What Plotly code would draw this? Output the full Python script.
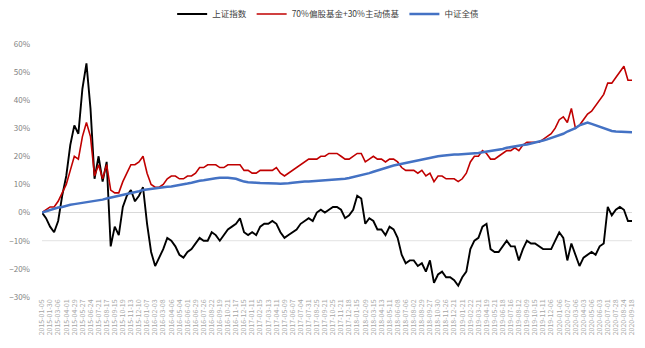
import numpy as np
import plotly.graph_objects as go

# Tick labels (every 19 trading days)
tick_labels = [
    "2015-01-05","2015-01-30","2015-03-06","2015-04-01","2015-04-29","2015-05-27","2015-06-24","2015-07-21","2015-08-17","2015-09-15","2015-10-19","2015-11-13","2015-12-10",
    "2016-01-07","2016-02-03","2016-03-08","2016-04-06","2016-05-04","2016-06-01","2016-06-29","2016-07-26","2016-08-22","2016-09-19","2016-10-21","2016-11-17","2016-12-15",
    "2017-01-11","2017-02-15","2017-03-13","2017-04-11","2017-05-09","2017-06-07","2017-07-04","2017-07-31","2017-08-25","2017-09-21","2017-10-25","2017-11-21","2017-12-18",
    "2018-01-15","2018-02-09","2018-03-15","2018-04-13","2018-05-11","2018-06-08","2018-07-06","2018-08-02","2018-08-29","2018-09-27","2018-10-30","2018-11-26","2018-12-21",
    "2019-01-21","2019-02-22","2019-03-21","2019-04-19","2019-05-21","2019-06-18","2019-07-16","2019-08-12","2019-09-09","2019-10-15","2019-11-11","2019-12-06",
    "2020-01-06","2020-02-07","2020-03-06","2020-04-03","2020-05-06","2020-06-03","2020-07-01","2020-07-28","2020-08-24","2020-09-18",
]

# Series values (%), sampled every half tick interval
sse = [
    0, -2, -5, -7, -3, 6, 13, 24, 31, 28,
    44, 53, 37, 12, 20, 11, 18, -12, -5, -8,
    2, 6, 8, 4, 6, 9, -4, -14, -19, -16,
    -13, -9, -10, -12, -15, -16, -14, -13, -11, -9,
    -10, -10, -7, -8, -10, -8, -6, -5, -4, -2,
    -7, -8, -7, -8, -5, -4, -4, -3, -4, -7,
    -9, -8, -7, -6, -4, -3, -2, -3, 0, 1,
    0, 1, 2, 2, 1, -2, -1, 1, 6, 5,
    -4, -2, -3, -6, -6, -8, -5, -6, -9, -15,
    -18, -17, -17, -19, -18, -21, -17, -25, -22, -21,
    -23, -23, -24, -26, -23, -21, -13, -10, -9, -5,
    -4, -13, -14, -14, -12, -10, -12, -12, -17, -13,
    -10, -11, -11, -12, -13, -13, -13, -10, -7, -9,
    -17, -11, -15, -19, -16, -15, -14, -15, -12, -11,
    2, -1, 1, 2, 1, -3, -3,
]
mix = [
    0, 1, 2, 2, 4, 7, 10, 15, 20, 19,
    27, 32, 27, 13, 17, 12, 17, 8, 7, 7,
    11, 14, 17, 17, 18, 20, 14, 10, 9, 9,
    10, 12, 13, 13, 12, 12, 13, 13, 14, 16,
    16, 17, 17, 17, 16, 16, 17, 17, 17, 17,
    15, 15, 14, 14, 15, 15, 15, 15, 16, 14,
    13, 14, 15, 16, 17, 18, 19, 19, 19, 20,
    20, 21, 21, 21, 20, 19, 19, 20, 21, 21,
    18, 19, 20, 19, 19, 18, 19, 19, 18, 16,
    15, 15, 15, 14, 15, 13, 14, 11, 13, 13,
    12, 12, 12, 11, 12, 14, 18, 20, 20, 22,
    21, 19, 19, 20, 21, 22, 22, 23, 22, 24,
    25, 25, 25, 25, 26, 27, 28, 30, 33, 34,
    32, 37, 30, 31, 33, 35, 36, 38, 40, 42,
    46, 46, 48, 50, 52, 47, 47,
]
bond = [
    0, 0.5, 1, 1.3, 1.8, 2, 2.5, 2.8, 3, 3.2,
    3.4, 3.6, 3.8, 4, 4.3, 4.6, 5, 5.3, 5.6, 6,
    6.3, 6.7, 7, 7.3, 7.6, 8, 8.2, 8.5, 8.7, 9,
    9.1, 9.2, 9.3, 9.5, 9.7, 10, 10.3, 10.6, 11, 11.3,
    11.5, 11.8, 12, 12.2, 12.4, 12.5, 12.4, 12.2, 12, 11.5,
    11, 10.8, 10.8, 10.6, 10.5, 10.5, 10.4, 10.4, 10.3, 10.2,
    10.2, 10.4, 10.6, 10.8, 11, 11, 11, 11.1, 11.2, 11.3,
    11.3, 11.4, 11.5, 11.6, 11.8, 12, 12.3, 12.6, 13, 13.3,
    13.6, 14, 14.5, 15, 15.4, 15.8, 16.3, 16.7, 17, 17.4,
    17.7, 18, 18.3, 18.6, 19, 19.2, 19.5, 19.8, 20, 20.2,
    20.4, 20.5, 20.6, 20.6, 20.7, 20.8, 20.8, 21, 21.2, 21.4,
    21.6, 21.8, 22, 22.3, 22.6, 23, 23.3, 23.5, 23.7, 24,
    24.2, 24.5, 24.8, 25.2, 25.6, 26, 26.5, 27, 27.5, 28,
    28.8, 29.5, 30, 31, 31.5, 32, 31.5, 31, 30.5, 30,
    29.5, 29, 28.8, 28.7, 28.5, 28.5, 28.5,
]
series_names = ["上证指数", "70%偏股基金+30%主动债基", "中证全债"]

x = np.arange(len(sse)) * 0.5
tick_pos = list(range(len(tick_labels)))

fig = go.Figure()
fig.add_trace(go.Scatter(x=x, y=sse, mode="lines", name=series_names[0],
                         line=dict(color="#000000", width=1.9)))
fig.add_trace(go.Scatter(x=x, y=mix, mode="lines", name=series_names[1],
                         line=dict(color="#C00000", width=1.6)))
fig.add_trace(go.Scatter(x=x, y=bond, mode="lines", name=series_names[2],
                         line=dict(color="#4472C4", width=2.5)))

fig.add_shape(type="line", xref="paper", x0=0, x1=1, yref="y", y0=-10, y1=-10,
              line=dict(color="#E3E3E3", width=1), layer="below")

fig.update_layout(
    width=645, height=348,
    margin=dict(l=31, r=9, t=33, b=51),
    paper_bgcolor="white", plot_bgcolor="white",
    font=dict(family="Noto Sans CJK SC, Noto Sans, sans-serif", color="#595959"),
    showlegend=True,
    legend=dict(orientation="h", x=0.485, xanchor="center", y=1 - 14 / 348,
                yref="container", yanchor="middle",
                font=dict(size=8.5, color="#404040"), itemwidth=30,
                tracegroupgap=0),
)
fig.update_xaxes(
    range=[0, 73], tickmode="array", tickvals=tick_pos, ticktext=tick_labels,
    tickangle=-90, tickfont=dict(size=7, color="#A6A6A6"),
    showgrid=False, zeroline=False, showline=False, ticks="",
)
fig.update_yaxes(
    range=[-30, 60], dtick=10, tick0=0, ticksuffix="%",
    tickfont=dict(size=8, color="#7F7F7F"),
    showgrid=False, zeroline=True, zerolinecolor="#D9D9D9", zerolinewidth=1,
    showline=False, ticks="", ticklabelstandoff=11,
)

fig.write_html("out.html")
